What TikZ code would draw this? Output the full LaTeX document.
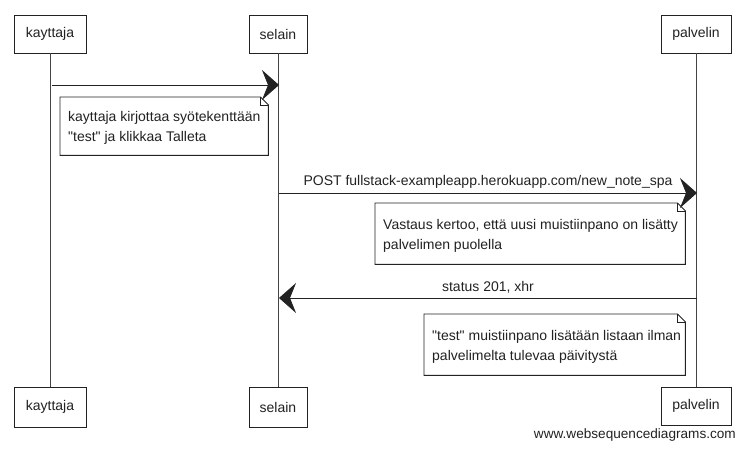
\documentclass[tikz,border=0pt]{standalone}
\usepackage{fontspec}
\setmainfont{Liberation Sans}
\usetikzlibrary{arrows.meta}
\definecolor{ink}{HTML}{222222}
\tikzset{
  actor/.style={draw=ink, line width=0.9pt, fill=white, text=ink, minimum height=38pt, inner sep=0pt},
  life/.style={draw=ink!85, line width=0.8pt},
  msg/.style={draw=ink, line width=0.9pt, -{Stealth[length=17pt, width=30pt, inset=6pt]}},
  notebg/.style={anchor=north west, inner sep=0pt},
  notetext/.style={anchor=west, inner sep=0pt, align=left, text=ink},
  notefold/.style={draw=ink, line width=0.9pt, fill=white},
  lbl/.style={text=ink, inner sep=0pt},
}
\newcommand\drawnote[1]{%
  \draw[notefold] (#1.north west) -- ([xshift=-8pt]#1.north east) -- ([yshift=-8pt]#1.north east) -- (#1.south east) -- (#1.south west) -- cycle;
  \draw[ink, line width=0.6pt] ([xshift=-8pt]#1.north east) -- ([xshift=-8pt,yshift=-8pt]#1.north east) -- ([yshift=-8pt]#1.north east);
}
\begin{document}
\begin{tikzpicture}[x=1pt, y=-1pt, font=\fontsize{14}{20}\selectfont]
\useasboundingbox (0,0) rectangle (744,450);
% actors
\node[actor, minimum width=72pt] (k1) at (50,34) {kayttaja};
\node[actor, minimum width=58pt] (s1) at (278,34) {selain};
\node[actor, minimum width=70pt] (p1) at (696,34) {palvelin};
\node[actor, minimum width=72pt, minimum height=40pt] (k2) at (50,407) {kayttaja};
\node[actor, minimum width=58pt, minimum height=40pt] (s2) at (278,407) {selain};
\node[actor, minimum width=70pt, minimum height=38pt] (p2) at (696,406) {palvelin};
% lifelines
\draw[life] (k1.south) -- (k2.north);
\draw[life] (s1.south) -- (s2.north);
\draw[life] (p1.south) -- (p2.north);
% message points
\coordinate (m1a) at (52,85);
\coordinate (m1b) at (279,85);
\coordinate (m2a) at (279,193);
\coordinate (m2b) at (697,193);
\coordinate (m3a) at (697,298);
\coordinate (m3b) at (279,298);
% notes
\node[notebg, minimum width=208pt, minimum height=58pt] (n1) at (60,97) {};
\node[notebg, minimum width=310pt, minimum height=61pt] (n2) at (375,203) {};
\node[notebg, minimum width=261pt, minimum height=61pt] (n3) at (424,314) {};
\drawnote{n1}
\drawnote{n2}
\drawnote{n3}
\node[notetext] (t1) at ([xshift=8pt,yshift=-2pt]n1.west) {kayttaja kirjottaa syötekenttään\\\textquotedbl test\textquotedbl{} ja klikkaa Talleta};
\node[notetext] (t2) at ([xshift=8pt,yshift=-2pt]n2.west) {Vastaus kertoo, että uusi muistiinpano on lisätty\\palvelimen puolella};
\node[notetext] (t3) at ([xshift=8pt,yshift=-2pt]n3.west) {\textquotedbl test\textquotedbl{} muistiinpano lisätään listaan ilman\\palvelimelta tulevaa päivitystä};
% messages
\draw[msg] (m1a) -- (m1b);
\draw[msg] (m2a) -- node[lbl, above=4pt] {POST fullstack-exampleapp.herokuapp.com/new\_note\_spa} (m2b);
\draw[msg] (m3a) -- node[lbl, above=4pt] {status 201, xhr} (m3b);
% watermark
\node[lbl, anchor=east, font=\fontsize{13.6}{16}\selectfont] (wm) at (736,435) {www.websequencediagrams.com};
\end{tikzpicture}
\end{document}
